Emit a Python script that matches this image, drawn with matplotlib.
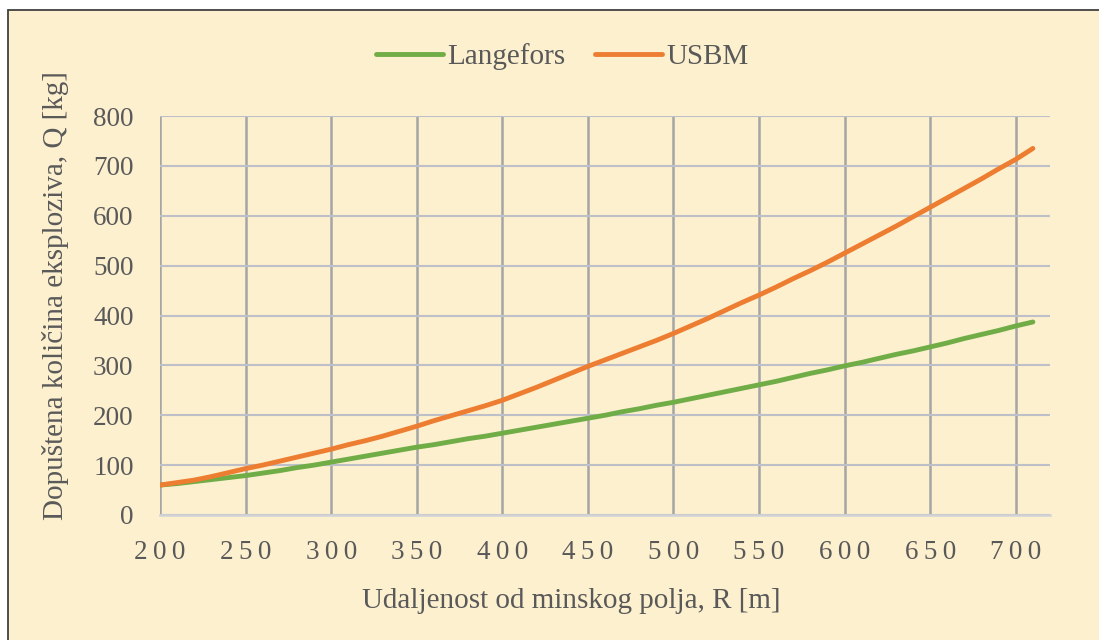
import matplotlib
matplotlib.use('Agg')
import matplotlib.pyplot as plt
from matplotlib.patches import Rectangle

# distance R [m]
udaljenost = list(range(200, 711, 10))

langefors = [60, 63, 67, 71, 75, 79, 84, 89, 95, 100,
             106, 112, 118, 124, 130, 136, 141, 147, 153, 158,
             164, 170, 176, 182, 188, 194, 200, 207, 213, 220,
             226, 233, 240, 247, 254, 261, 268, 276, 284, 291,
             299, 306, 314, 322, 329, 337, 345, 354, 362, 370,
             379, 387]

usbm = [60, 65, 70, 77, 85, 93, 100, 108, 116, 124,
        132, 141, 149, 158, 168, 178, 189, 199, 209, 219,
        230, 243, 256, 270, 284, 298, 311, 324, 337, 350,
        364, 379, 394, 410, 426, 441, 457, 474, 490, 507,
        525, 543, 561, 579, 598, 617, 636, 655, 674, 694,
        713, 735]

x_ticks = [200, 250, 300, 350, 400, 450, 500, 550, 600, 650, 700]
y_ticks = [0, 100, 200, 300, 400, 500, 600, 700, 800]

bg = '#FDF0CF'
txt = '#595959'
plt.rcParams['font.family'] = ['Liberation Serif', 'DejaVu Serif']

fig = plt.figure(figsize=(10.99, 6.4), dpi=100)
fig.patch.set_facecolor('white')

# chart area with dark border
fig.patches.append(Rectangle((8 / 1099, -0.05), 1.2, 1 - 10 / 640 + 0.05,
                             transform=fig.transFigure, facecolor=bg,
                             edgecolor='#404040', linewidth=1.3, zorder=-1))

ax = fig.add_axes([160 / 1099, 1 - 515 / 640, 890 / 1099, 399 / 640])
ax.set_facecolor(bg)

ax.plot(udaljenost, langefors, color='#70AD47', linewidth=3.5,
        solid_capstyle='round', label='Langefors', zorder=3)
ax.plot(udaljenost, usbm, color='#ED7D31', linewidth=3.5,
        solid_capstyle='round', label='USBM', zorder=3)

ax.set_xlim(200, 720)
ax.set_ylim(0, 800)
ax.set_xticks(x_ticks)
ax.set_xticklabels(['\u2009'.join(str(v)) for v in x_ticks])
ax.set_yticks(y_ticks)

ax.grid(axis='x', color='#A5A5A5', linewidth=1.8, zorder=1)
ax.grid(axis='y', color='#BDC0C8', linewidth=1.5, zorder=1)
for side in ['top', 'right', 'left']:
    ax.spines[side].set_visible(False)
ax.spines['bottom'].set_color('#D0D2D6')
ax.spines['bottom'].set_linewidth(1.8)

ax.tick_params(axis='both', length=0, colors=txt, labelsize=19.5)
ax.tick_params(axis='y', pad=19)
ax.tick_params(axis='x', pad=18)

ax.set_xlabel('Udaljenost od minskog polja, R [m]', fontsize=21, color=txt)
ax.xaxis.set_label_coords(0.462, -0.182)
ax.set_ylabel('Dopuštena količina eksploziva, Q [kg]', fontsize=21, color=txt)
ax.yaxis.set_label_coords(-0.102, 0.55)

leg = ax.legend(loc='center', bbox_to_anchor=(0.452, 1.148), ncol=2,
                frameon=False, fontsize=21, handlelength=2.3,
                handletextpad=0.15, columnspacing=1.0)
for t in leg.get_texts():
    t.set_color(txt)

fig.savefig('out.png', dpi=100, facecolor=fig.get_facecolor())
